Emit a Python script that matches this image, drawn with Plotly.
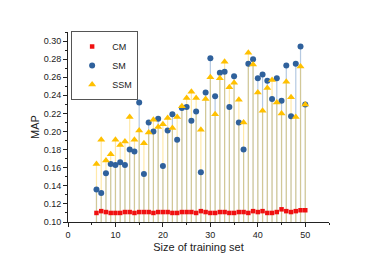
import plotly.graph_objects as go

sizes = list(range(6, 51))

cm = [0.110, 0.112, 0.111, 0.110, 0.110, 0.110, 0.111, 0.111, 0.110, 0.111,
      0.111, 0.111, 0.110, 0.111, 0.111, 0.111, 0.110, 0.110, 0.111, 0.111,
      0.111, 0.110, 0.112, 0.111, 0.110, 0.110, 0.111, 0.111, 0.110, 0.110,
      0.111, 0.111, 0.110, 0.112, 0.111, 0.112, 0.110, 0.110, 0.111, 0.114,
      0.112, 0.111, 0.112, 0.113, 0.113]

sm = [0.136, 0.132, 0.154, 0.164, 0.163, 0.166, 0.163, 0.180, 0.178, 0.232,
      0.153, 0.210, 0.200, 0.214, 0.162, 0.201, 0.219, 0.191, 0.226, 0.227,
      0.212, 0.222, 0.155, 0.243, 0.281, 0.239, 0.265, 0.266, 0.227, 0.261,
      0.210, 0.180, 0.275, 0.280, 0.259, 0.263, 0.256, 0.236, 0.259, 0.234,
      0.273, 0.217, 0.275, 0.294, 0.230]

ssm = [0.164, 0.191, 0.168, 0.175, 0.191, 0.185, 0.189, 0.216, 0.191, 0.201,
       0.187, 0.199, 0.213, 0.205, 0.208, 0.215, 0.204, 0.216, 0.228, 0.237,
       0.244, 0.237, 0.202, 0.236, 0.260, 0.219, 0.259, 0.277, 0.249, 0.254,
       0.235, 0.210, 0.287, 0.274, 0.243, 0.223, 0.248, 0.257, 0.232, 0.220,
       0.255, 0.238, 0.216, 0.272, 0.230]

y_base = 0.10


def stems(xs, ys):
    sx, sy = [], []
    for x, y in zip(xs, ys):
        sx += [x, x, None]
        sy += [y, y_base, None]
    return sx, sy


fig = go.Figure()

sx, sy = stems(sizes, sm)
fig.add_trace(go.Scatter(x=sx, y=sy, mode="lines", showlegend=False, hoverinfo="skip",
                         line=dict(color="rgba(70,120,180,0.4)", width=1.2)))
sx, sy = stems(sizes, ssm)
fig.add_trace(go.Scatter(x=sx, y=sy, mode="lines", showlegend=False, hoverinfo="skip",
                         line=dict(color="rgba(255,200,40,0.4)", width=1.2)))

fig.add_trace(go.Scatter(x=sizes, y=cm, mode="markers", name="CM",
                         marker=dict(symbol="square", size=4.5, color="#f01010")))
fig.add_trace(go.Scatter(x=sizes, y=sm, mode="markers", name="SM",
                         marker=dict(symbol="circle", size=6, color="#2f619c")))
fig.add_trace(go.Scatter(x=sizes, y=ssm, mode="markers", name="SSM",
                         marker=dict(symbol="triangle-up", size=7, color="#ffc000")))

axis_common = dict(showline=True, linecolor="#222", linewidth=1, ticks="outside",
                   ticklen=4, tickwidth=1, tickcolor="#222", showgrid=False,
                   zeroline=False, mirror=False, automargin=False,
                   tickfont=dict(family="Liberation Sans, Arial", size=9, color="#222"))

fig.update_layout(
    width=382, height=267,
    margin=dict(l=60, r=61, t=24, b=53, autoexpand=False),
    paper_bgcolor="white", plot_bgcolor="white",
    font=dict(family="Liberation Sans, Arial", size=10, color="#222"),
    xaxis=dict(range=[0, 55], tickvals=[0, 10, 20, 30, 40, 50],
               minor=dict(dtick=5, tick0=0, ticks="outside", ticklen=2, tickcolor="#222"),
               title=dict(text="Size of training set", font=dict(size=11), standoff=4),
               **axis_common),
    yaxis=dict(range=[0.10, 0.31], tickvals=[0.10 + 0.02 * i for i in range(11)],
               tickformat=".2f",
               minor=dict(dtick=0.01, tick0=0.10, ticks="outside", ticklen=2, tickcolor="#222"),
               title=dict(text="MAP", font=dict(size=11), standoff=1),
               **axis_common),
    legend=dict(x=0.012, y=1.005, xanchor="left", yanchor="top",
                bordercolor="#555", borderwidth=1, bgcolor="white",
                font=dict(size=9), tracegroupgap=0, itemwidth=30,
                itemsizing="trace"),
    showlegend=True,
)

fig.write_html("out.html")
